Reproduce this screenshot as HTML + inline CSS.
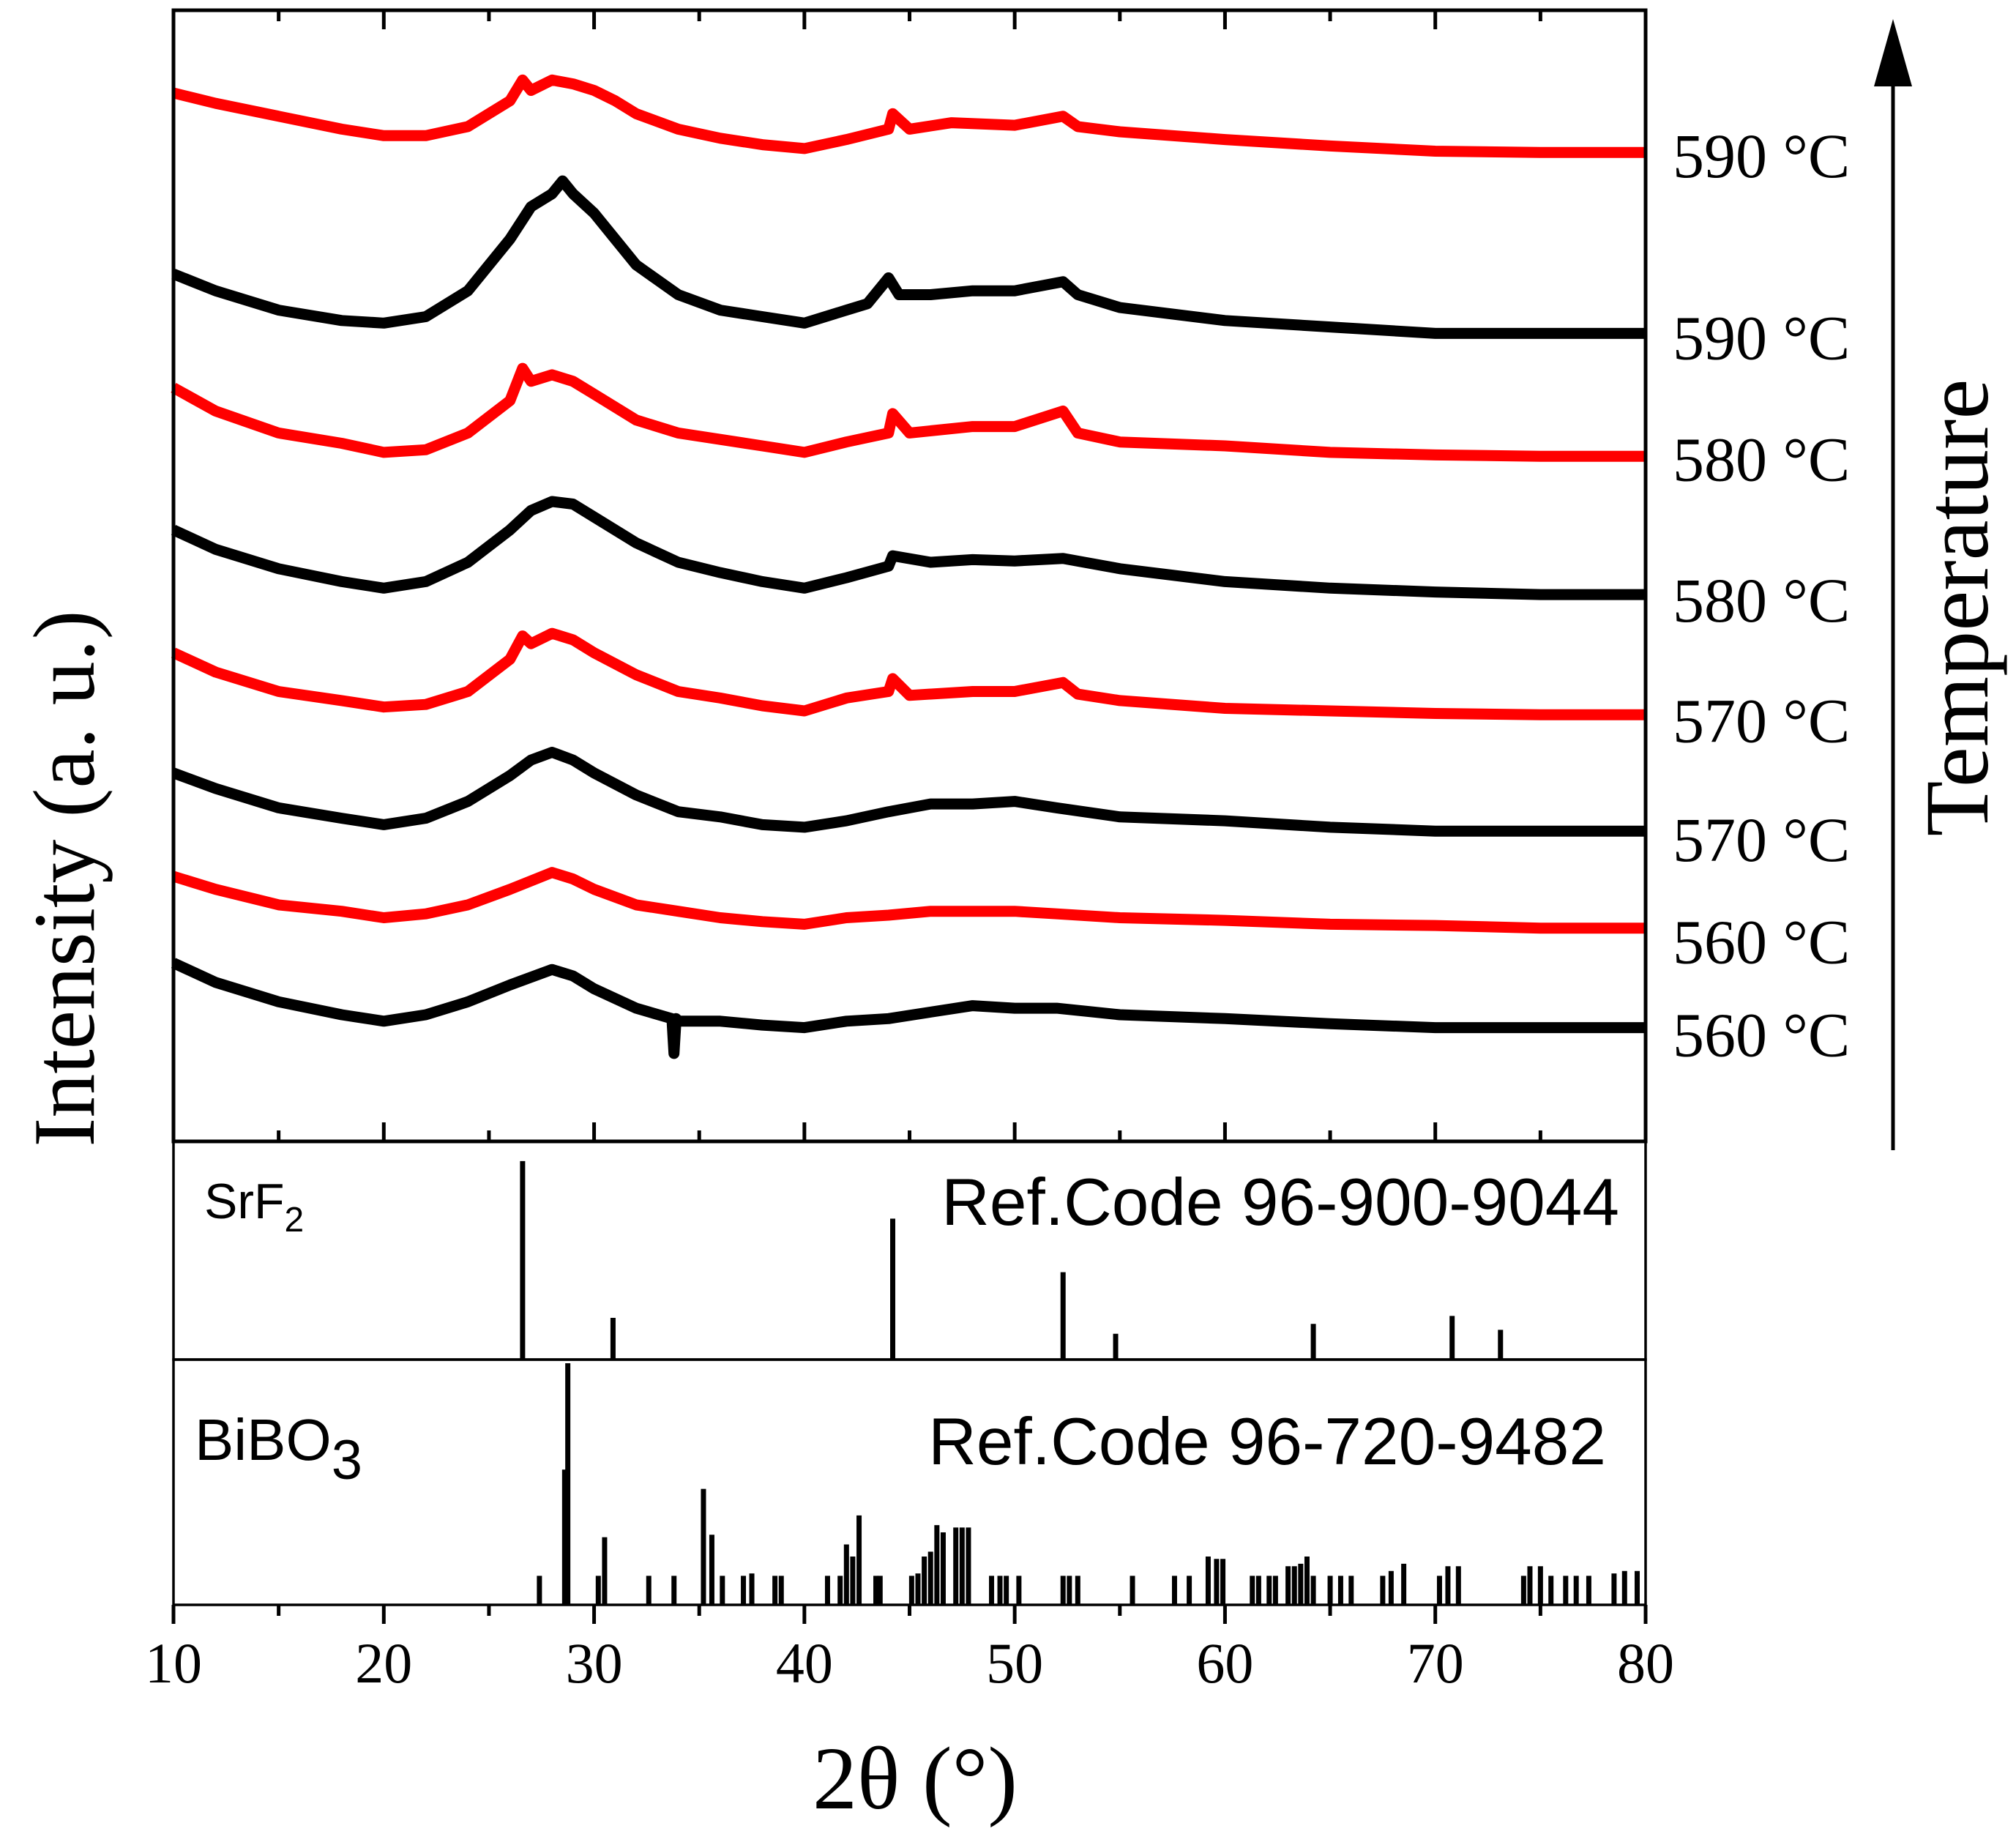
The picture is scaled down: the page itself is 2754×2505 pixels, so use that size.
<!DOCTYPE html>
<html><head><meta charset="utf-8"><style>
html,body{margin:0;padding:0;background:#fff;}
svg{display:block;}
</style></head><body>
<svg id="chart" width="2754" height="2505" viewBox="0 0 2754 2505" xmlns="http://www.w3.org/2000/svg">
<g id="main"></g>
<g id="refs"></g>
<g id="axes"></g>
</svg>
<script>
// ---- data ----
const xTicks = [10,20,30,40,50,60,70,80];
const xMinor = [15,25,35,45,55,65,75];
const seriesNames = ['590 °C','590 °C','580 °C','580 °C','570 °C','570 °C','560 °C','560 °C'];
const seriesColors = ['#ff0000','#000000','#ff0000','#000000','#ff0000','#000000','#ff0000','#000000'];
const r590x = [10,12,15,18,20,22,24,26,26.6,27,28,29,30,31,32,34,36,38,40,42,44,44.2,45,47,50,52.3,53,55,60,65,70,75,80];
const r590y = [811,803,793,783,778,778,785,805,821,813,821,818,813,805,795,783,776,771,768,775,783,795,783,788,786,793,785,781,775,770,766,765,765];
const b590x = [10,12,15,18,20,22,24,26,27,28,28.5,29,30,31,32,34,36,38,40,42,43,44,44.5,46,48,50,52.3,53,55,60,65,70,75,80];
const b590y = [671,658,643,635,633,638,658,698,723,733,743,733,718,698,678,655,643,638,633,643,648,668,655,655,658,658,665,655,645,635,630,625,625,625];
const r580x = [10,12,15,18,20,22,24,26,26.6,27,28,29,30,32,34,36,38,40,42,44,44.2,45,48,50,52.3,53,55,60,65,70,75,80];
const r580y = [583,565,548,540,533,535,548,573,598,588,593,588,578,558,548,543,538,533,541,548,563,548,553,553,565,548,541,538,533,531,530,530];
const b580x = [10,12,15,18,20,22,24,26,27,28,29,30,32,34,36,38,40,42,44,44.2,46,48,50,52.3,55,60,65,70,75,80];
const b580y = [473,458,443,433,428,433,448,473,488,495,493,483,463,448,440,433,428,436,445,453,448,450,449,451,443,433,428,425,423,423];
const r570x = [10,12,15,18,20,22,24,26,26.6,27,28,29,30,32,34,36,38,40,42,44,44.2,45,48,50,52.3,53,55,60,65,70,75,80];
const r570y = [378,363,348,341,336,338,348,373,391,385,393,388,378,361,348,343,337,333,343,348,358,345,348,348,355,346,341,335,333,331,330,330];
const b570x = [10,12,15,18,20,22,24,26,27,28,29,30,32,34,36,38,40,42,44,46,48,50,52,55,60,65,70,75,80];
const b570y = [285,273,258,250,245,250,263,283,295,301,295,285,268,255,251,245,243,248,255,261,261,263,258,251,248,243,240,240,240];
const r560x = [10,12,15,18,20,22,24,26,28,29,30,32,34,36,38,40,42,44,46,48,50,52,55,60,65,70,75,80];
const r560y = [205,195,183,178,173,176,183,195,208,203,195,183,178,173,170,168,173,175,178,178,178,176,173,171,168,167,165,165];
const b560x = [10,12,15,18,20,22,24,26,28,29,30,32,33.7,33.8,33.9,34,36,38,40,42,44,46,48,50,52,55,60,65,70,75,80];
const b560y = [138,123,108,98,93,98,108,121,133,128,118,103,95,68,95,93,93,90,88,93,95,100,105,103,103,98,95,91,88,88,88];
const labelValues = [763,622,528,419,326,234,155,83];
const srf2Pos = [26.6,30.9,44.2,52.3,54.8,64.2,70.8,73.1];
const srf2Int = [100,21,71,44,13,18,22,15];
const bibo3Pos = [27.4,28.6,28.75,30.2,30.5,32.6,33.8,35.2,35.6,36.1,37.1,37.5,38.6,38.9,41.1,41.7,42.0,42.3,42.6,43.4,43.6,45.1,45.4,45.7,46.0,46.3,46.6,47.2,47.5,47.8,48.9,49.3,49.6,50.2,52.3,52.6,53.0,55.6,57.6,58.3,59.2,59.6,59.9,61.3,61.6,62.1,62.4,63.0,63.3,63.6,63.9,64.2,65.0,65.5,66.0,67.5,67.9,68.5,70.2,70.6,71.1,74.2,74.5,75.0,75.5,76.2,76.7,77.3,78.5,79.0,79.6];
const bibo3Int = [12,56,100,12,28,12,12,48,29,12,12,13,12,12,12,12,25,20,37,12,12,12,13,20,22,33,30,32,32,32,12,12,12,12,12,12,12,12,12,12,20,19,19,12,12,12,12,16,16,17,20,12,12,12,12,12,14,17,12,16,16,12,16,16,12,12,12,12,13,14,14];

// ---- layout ----
const NS='http://www.w3.org/2000/svg';
const L=237,R=2248,T=14,MB=1559,SB=1857,BB=2192;
const xS=v=>L+(v-10)/70*(R-L);
const yMain=v=>MB-v*(MB-T)/875;
const ySr=v=>SB-v/100*0.91*(SB-MB);
const yBi=v=>BB-v/100*0.985*(BB-SB);
function mk(tag,attrs,parent){const e=document.createElementNS(NS,tag);for(const k in attrs)e.setAttribute(k,attrs[k]);parent.appendChild(e);return e;}
const main=document.getElementById('main'),refs=document.getElementById('refs'),axes=document.getElementById('axes');

const allX=[r590x,b590x,r580x,b580x,r570x,b570x,r560x,b560x];
const allY=[r590y,b590y,r580y,b580y,r570y,b570y,r560y,b560y];
allX.forEach((xs,i)=>{
  const pts=xs.map((x,j)=>xS(x).toFixed(1)+','+yMain(allY[i][j]).toFixed(1)).join(' ');
  const pl=mk('polyline',{points:pts,fill:'none',stroke:seriesColors[i],'stroke-width':15,'stroke-linejoin':'round'},main);
  
  
  const t=mk('text',{x:2285,y:yMain(labelValues[i])+30,'font-family':'Liberation Serif, serif','font-size':86,fill:'#000'},main);
  t.textContent=seriesNames[i];
  
  
});

srf2Pos.forEach((p,i)=>{
  const l=mk('line',{x1:xS(p),x2:xS(p),y1:SB,y2:ySr(srf2Int[i]),stroke:'#000','stroke-width':7},refs);
  
  
});
bibo3Pos.forEach((p,i)=>{
  const l=mk('line',{x1:xS(p),x2:xS(p),y1:BB,y2:yBi(bibo3Int[i]),stroke:'#000','stroke-width':7},refs);
  
  
});

[[T,MB],[MB,SB],[SB,BB]].forEach((r,i)=>{
  const f=mk('rect',{x:L,y:r[0],width:R-L,height:r[1]-r[0],fill:'none',stroke:'#000','stroke-width':i==0?5:3.5},axes);
  
  
});
xTicks.forEach(v=>{
  mk('line',{x1:xS(v),x2:xS(v),y1:T,y2:T+26,stroke:'#000','stroke-width':5},axes);
  mk('line',{x1:xS(v),x2:xS(v),y1:MB,y2:MB-26,stroke:'#000','stroke-width':5},axes);
  mk('line',{x1:xS(v),x2:xS(v),y1:BB,y2:BB+26,stroke:'#000','stroke-width':5},axes);
  const t=mk('text',{x:xS(v),y:2298,'text-anchor':'middle','font-family':'Liberation Serif, serif','font-size':78,fill:'#000'},axes);
  t.textContent=v;
  
  
});
xMinor.forEach(v=>{
  mk('line',{x1:xS(v),x2:xS(v),y1:T,y2:T+15,stroke:'#000','stroke-width':5},axes);
  mk('line',{x1:xS(v),x2:xS(v),y1:MB,y2:MB-15,stroke:'#000','stroke-width':5},axes);
  mk('line',{x1:xS(v),x2:xS(v),y1:BB,y2:BB+15,stroke:'#000','stroke-width':5},axes);
});
</script>
<script>
(function(){
const svg=document.getElementById('chart');
svg.insertAdjacentHTML('beforeend',`
<text x="1250" y="2470" text-anchor="middle" font-family="Liberation Serif, serif" font-size="122">2θ (°)</text>
<text transform="translate(128,1200) rotate(-90)" text-anchor="middle" font-family="Liberation Serif, serif" font-size="120">Intensity (a. u.)</text>
<text transform="translate(2715,830) rotate(-90)" text-anchor="middle" font-family="Liberation Serif, serif" font-size="124">Temperature</text>
<line x1="2586" y1="1571" x2="2586" y2="100" stroke="#000" stroke-width="5"/>
<polygon points="2586,26 2560,118 2612,118" fill="#000"/>
<text x="279" y="1664" font-family="Liberation Sans, sans-serif" font-size="68">SrF<tspan font-size="48" dy="18">2</tspan></text>
<text x="2212" y="1673" text-anchor="end" font-family="Liberation Sans, sans-serif" font-size="91">Ref.Code 96-900-9044</text>
<text x="266" y="1994" font-family="Liberation Sans, sans-serif" font-size="80">BiBO<tspan font-size="76" dy="26">3</tspan></text>
<text x="2194" y="2000" text-anchor="end" font-family="Liberation Sans, sans-serif" font-size="91">Ref.Code 96-720-9482</text>
`);
})();
</script>
</body></html>
